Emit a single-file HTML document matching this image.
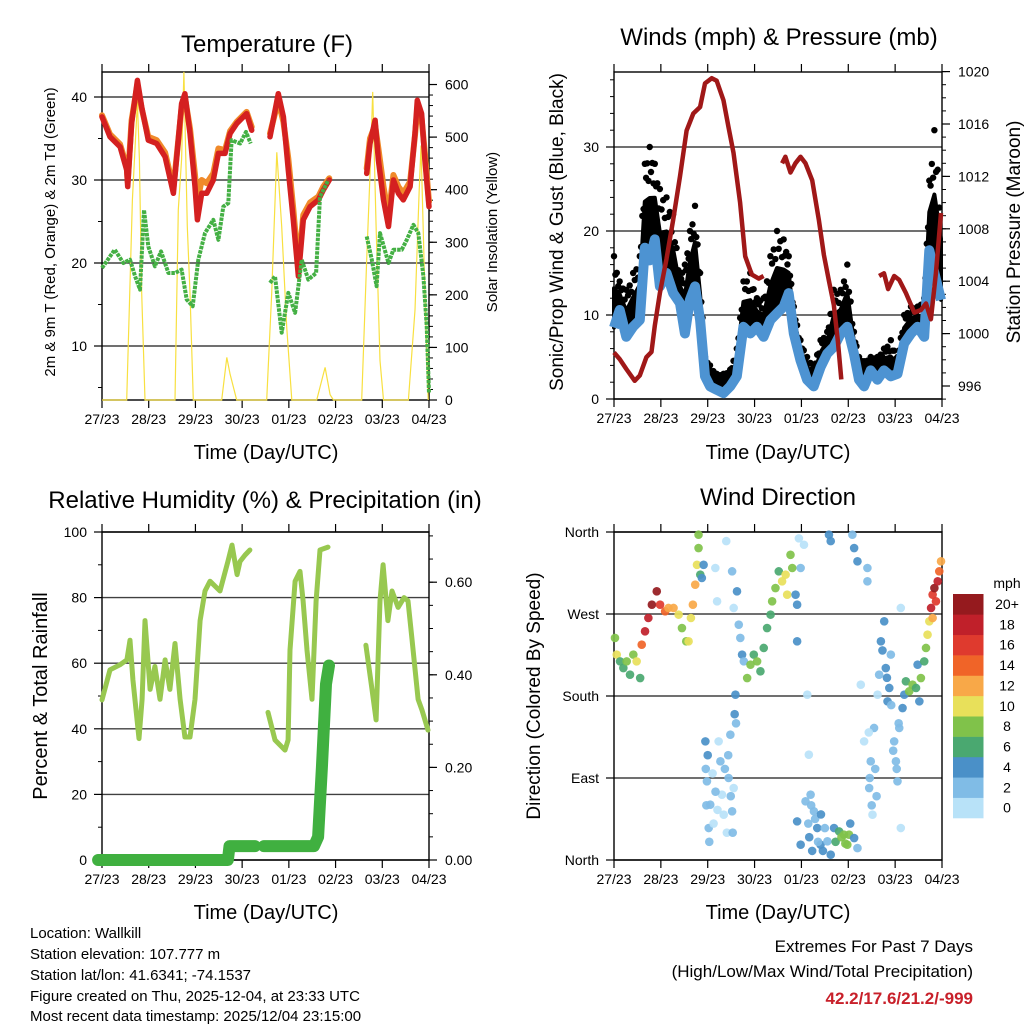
<!DOCTYPE html>
<html><head><meta charset="utf-8">
<style>
html,body{margin:0;padding:0;background:#fff;}
svg{display:block;font-family:"Liberation Sans",sans-serif;}
text{fill:#000;}
</style></head>
<body>
<svg id="chart" width="1024" height="1024" viewBox="0 0 1024 1024" xmlns="http://www.w3.org/2000/svg">
<rect x="0" y="0" width="1024" height="1024" fill="#fff"/>
<text x="267" y="52" font-size="24" text-anchor="middle">Temperature (F)</text>
<text x="779" y="45" font-size="24" text-anchor="middle">Winds (mph) &amp; Pressure (mb)</text>
<text x="265" y="508" font-size="24" text-anchor="middle">Relative Humidity (%) &amp; Precipitation (in)</text>
<text x="778" y="505" font-size="24" text-anchor="middle">Wind Direction</text>
<text x="266" y="459" font-size="20" text-anchor="middle">Time (Day/UTC)</text>
<text x="778" y="459" font-size="20" text-anchor="middle">Time (Day/UTC)</text>
<text x="266" y="919" font-size="20" text-anchor="middle">Time (Day/UTC)</text>
<text x="778" y="919" font-size="20" text-anchor="middle">Time (Day/UTC)</text>
<text transform="translate(55,232) rotate(-90)" font-size="15" text-anchor="middle">2m &amp; 9m T (Red, Orange) &amp; 2m Td (Green)</text>
<text transform="translate(497,232) rotate(-90)" font-size="15" text-anchor="middle">Solar Insolation (Yellow)</text>
<text transform="translate(563,232) rotate(-90)" font-size="19" text-anchor="middle">Sonic/Prop Wind &amp; Gust (Blue, Black)</text>
<text transform="translate(1020,232) rotate(-90)" font-size="19" text-anchor="middle">Station Pressure (Maroon)</text>
<text transform="translate(47,696) rotate(-90)" font-size="20" text-anchor="middle">Percent &amp; Total Rainfall</text>
<text transform="translate(540,696) rotate(-90)" font-size="19" text-anchor="middle">Direction (Colored By Speed)</text>
<g font-size="15">
<text x="30" y="938">Location: Wallkill</text>
<text x="30" y="959">Station elevation: 107.777 m</text>
<text x="30" y="980">Station lat/lon: 41.6341; -74.1537</text>
<text x="30" y="1001">Figure created on Thu, 2025-12-04, at 23:33 UTC</text>
<text x="30" y="1021">Most recent data timestamp: 2025/12/04 23:15:00</text>
</g>
<text x="973" y="952" font-size="17" text-anchor="end">Extremes For Past 7 Days</text>
<text x="973" y="977" font-size="17" text-anchor="end">(High/Low/Max Wind/Total Precipitation)</text>
<text x="973" y="1004" font-size="17" font-weight="bold" text-anchor="end" style="fill:#c8202a">42.2/17.6/21.2/-999</text>
</svg>
<script>
// ---------- data ----------
const xTickLabels = ['27/23','28/23','29/23','30/23','01/23','02/23','03/23','04/23'];
const redT = [0,4.1,9.3,12.7,13.2,15.2,18.2,20.4,23.8,28.1,32.4,36.7,40.9,42.6,45.2,47.8,49,51.2,53.8,57.2,59.8,63.2,65.8,69.2,74.3,76.9,null,86.3,90.6,93.2,95.7,98.3,100.9,103.4,106.9,111.2,113.7,116.8,null,136,137.7,140.3,142,144.6,147.2,149.7,152.3,154.8,158.3,160.8,162,164.2,165.9,168];
const redV = [37.6,35.2,34,31.2,29.2,36.8,42,38.8,34.8,34.4,32.8,28.4,39.2,40.4,35.6,29.2,25.2,28.4,28.4,30,33.2,33.2,35.6,36.8,38,36,null,35.2,40.4,37.6,31.2,25.2,18.4,25.2,26.8,27.6,28.8,30,null,30.8,34.4,37.2,32.4,27.6,24.4,30,28.4,27.6,29.2,35.6,39.6,38,32.4,26.8];
const orangeV = [37.8,35.5,34.3,31.6,29.8,37.2,41.5,38.6,35.2,34.8,33.3,29,38.7,40,36.2,30.6,27.5,30,29.6,30.8,33.8,33.6,35.9,37,38.2,36.4,null,35.6,39.6,37,32.6,26.5,19.5,25.8,27.3,28,29.2,30.2,null,31.4,35,36.6,33.8,29.2,25.6,30.6,29.2,28.4,29.8,35.4,38.5,37.4,33.2,27.4];
const dewT = [0,6.5,11,14.4,17,19.5,21.6,23.8,27.2,30.3,34.1,37.5,40.9,43.5,46.6,49.5,52.9,57.2,59.8,62.3,64.9,66.6,71,74,76.4,null,86.3,88.9,92.3,95.7,99.2,102.6,106,110,112,116.3,null,136,138.6,141.1,142.8,147.2,149.7,154,156.6,160,162.5,165.1,166.8,168];
const dewV = [19.4,21.6,20,20.4,18.4,16.8,26.4,22,19.6,21.4,18.8,18.8,19.2,15.6,14.8,20.4,23.6,25.2,22.8,26.8,27.2,34.8,34.4,35.8,34.4,null,17.6,18.4,11.6,16.4,14,20.4,18,18.8,28,30,null,23.2,20.4,17.2,23.6,20,21.6,21.6,22.8,24.6,23.6,18.4,12.4,4.3];
const solarT = [0,12.7,15.6,18.2,19.2,20.4,22.1,37.5,39.2,40.9,42.1,43.8,45.2,46.9,61.5,64.1,65.8,69.2,84.6,87.2,89.8,92.3,94.9,97.5,110.3,114.6,117.2,118.9,133.4,136,138,139.1,140.8,142.8,144.6,157.4,160.8,162.9,163.9,165.9,167.6];
const solarV = [0,0,381,567,458,203,0,0,362,458,624,330,203,0,0,81,49,0,0,203,471,330,139,0,0,62,10,0,0,267,458,586,330,75,0,0,171,394,484,203,0];
const windT = [0,2.9,6.3,9.8,13.2,15.8,18.3,20.9,23.5,26.9,30.3,33.8,36.3,38.9,41.5,44.1,46.6,49.2,52.6,56.1,59.5,62.9,66.3,69.8,73.2,76.6,80.1,83.5,86.9,89.5,92.1,95.5,98.9,102.3,105.8,109.2,112.6,116.1,119.5,122.9,125.5,128.1,131.5,134.9,138.3,141.8,145.2,148.6,152.1,155.5,158.9,161.5,164.1,167.5];
const windS = [8.5,10.6,7.4,8.6,9.4,18,16.5,19,13.4,15,12.6,11.4,7.8,11.8,13.4,9.4,2.7,1.5,1.1,0.7,1.5,2.7,8.6,7.8,8.6,7.4,9.4,10.2,11,12.6,7.8,4.6,2.3,1.5,3.8,5.4,6.2,7.8,8.6,5.4,2.3,1.5,3.4,2.3,3.4,2.7,3.0,6.6,7.8,8.6,7.4,17.7,15,11.8];
const windG = [17,14,13,15,17,28,30,28,25,24,22,15,16,20,23,15,5,4,3,3,3.5,6,14,15,12,12,17,20,19,17,11,7,5,4,7,8,13,13,16,8,5,4.5,5,5,6,7,5,10,11,11,12,26,32,25];
const presT = [0,2.9,6.3,10.6,13.2,16.6,19.2,20.9,23.5,26.9,30.3,33.8,37.2,40.6,44.1,46.6,50.1,52.6,56.1,58.6,61.2,64.6,67.2,70.6,74.1,76.6,null,86.1,87.8,90.4,92.9,95.5,98.1,101.5,104.9,107.5,110.1,112.6,114.7,116.4,null,135.8,138.3,140.4,143.5,146.1,149.5,153.8,157.2,159.8,162.3,164.9,167.5];
const presV = [998.56,998.05,997.3,996.4,996.8,998.2,998.6,1000.6,1003.1,1005.7,1008.7,1012,1015.5,1016.8,1017.3,1019.1,1019.5,1019.3,1017.8,1015.8,1013.8,1010,1005.9,1004.5,1004.2,1004.4,null,1013,1013.5,1012.3,1013,1013.5,1013,1011.7,1008.7,1006,1004,1002.2,999.4,996.5,null,1004.4,1004.6,1003.4,1004.4,1004.1,1003.1,1001.6,1001.8,1002.3,1001.1,1004.6,1009.2];
const rhT = [0,4.1,9.2,12.8,14.4,15.9,19,20.6,22.1,24.7,27.2,29.8,32.4,34.9,37.5,40.1,42.6,45.2,47.8,50.4,52.9,55.5,60.6,64.7,66.8,69.4,70.9,73.5,76,null,85.3,88.9,94,95.6,96.6,99.2,101.7,103.3,105.3,107.9,110,112,116.1,null,135.6,138.7,140.8,142.8,144.4,146.9,149,152.1,155.2,157.2,159.3,162.4,164.4,167.5];
const rhV = [48.8,58,59.5,61,67,55,37,49,73,52,59,49,61,52,66,49,37.5,37.5,49,73,82,85,82,91,96,87,91,93,94.5,null,45,36.6,33.5,36.6,64,85,88,79,64,49,79,94.5,95.4,null,65.5,52,42.7,79,90,73,82,77,80,79,67,49,45.7,39.6];
const precT = [-2,64.7,65.5,78.6,null,83.2,108.9,111,113,115.1,116.6];
const precV = [0,0,0.03,0.03,null,0.03,0.03,0.05,0.2,0.38,0.42];
const dirT = [0.5,1.4,3.1,4.8,6.5,8.2,9.9,11.6,13.4,14.2,15.9,17.6,19.4,21.9,23.6,26.2,27.9,30.5,33.1,34.8,37,38.2,39.4,40.4,41.6,42.5,43.3,44.2,45,45.9,43.3,
46.8,47.6,48.5,49.3,51.9,52.8,53.6,54.5,55.3,56.2,57.5,58.7,59.6,60.5,61.3,62.2,60.5,61.3,63,63.9,64.7,65.6,66.5,68.2,69.9,71.6,73.3,75,76.7,78.4,80.2,81,82.7,84.4,86.1,87.9,88.7,90.4,91.3,93,93.8,93.8,94.7,95.6,97.3,99,99.8,100.7,102.4,93.8,95.6,98.1,104.1,105.8,109.3,111,112.7,115.3,117.8,119.5,120.4,123,124.7,110.1,111,122.1,123,124.7,126.4,128.1,129.8,129.8,130.7,131.5,132.4,133.2,135,135.8,136.7,138.4,139.2,140.1,141,141.8,143.5,144.4,145.2,146.1,146.9,146.9,147.8,148.7,149.5,151.2,152.9,154.7,155.5,156.4,157.2,158.9,159.8,160.6,161.5,162.4,163.2,164.1,165.8,166.6,167.5,164.9,163.2,
47,47.3,48,48.8,50.5,51,52,53,56.8,57.8,58.5,59.8,60.8,61.8,62.5,99.5,100,101,101.5,103,104.5,106,107,108,113.5,116.5,118.5,121,130.5,131,132,133.8,134.5,137.5,139.8,142,143,144.8,145.8];
const dirDeg = [243.7,225.4,218,210.7,218,203.4,225.4,218,199.7,236.3,251,265.6,280.2,294.9,280.2,272.9,276.6,276.6,269.3,254.6,240,240,265.6,280.2,302.2,324,342.4,313.2,309.5,324,357,
130.2,86.3,35.1,60.7,320.5,283.9,130.2,108.3,71.7,49.7,350,90,137.5,53.4,79,181.4,316.8,276.6,294.9,258.3,243.7,225.4,218,199.7,214.4,225.4,218,207.1,232.7,254.6,269.3,283.9,298.5,316.8,305.9,313.2,291.2,335,320.5,291.2,280.2,240,353,320.5,346,181.4,115.6,71.7,53.4,42.4,16.8,64.4,35.1,16.8,20.5,5.8,35.1,31.4,27.8,16.8,27.8,24.1,13.1,357,350,357,342.4,327.8,192.4,130.2,320.5,305.9,79,108.3,49.7,144.9,181.4,203.4,240,262,210.7,174.1,188.8,225.4,130.2,108.3,86.3,144.9,35.1,276.6,166.8,181.4,196.1,185.1,192.4,188.8,214.4,174.1,199.7,218,232.7,247.3,262,276.6,291.2,298.5,305.9,316.8,327.8,283.9,265.6,
100,60,115,20,95,40,75,55,100,30,115,70,30,160,150,40,25,60,10,45,20,50,10,35,20,25,18,40,140,90,60,100,70,230,200,170,120,100,150];
const dirSpd = [8,10,6,6,8,6,8,10,6,14,18,18,20,20,16,14,12,12,10,8,8,10,10,12,12,10,8,6,4,4,8,
4,2,2,2,0,0,0,2,0,0,0,2,2,2,0,4,2,0,4,2,2,4,2,8,8,6,8,6,6,6,6,8,8,6,10,10,10,8,8,4,4,4,0,2,0,0,0,2,2,4,4,2,4,4,2,4,4,6,8,8,8,4,2,4,4,2,4,4,0,0,2,2,2,2,0,2,0,2,4,4,4,4,4,2,2,2,2,2,0,0,4,4,6,8,8,6,4,4,8,6,8,10,10,18,16,20,18,14,12,16,12,
2,2,4,2,0,0,2,0,2,0,2,2,2,4,2,2,4,2,4,2,2,4,4,2,6,8,8,4,0,2,2,2,2,4,4,2,2,2,2];
const speedColors = ['#b8e2f8','#80bce6','#4a90c8','#4aa870','#80c24a','#e8e05a','#f8a848','#f06428','#df3a2e','#c0202a','#951a1e'];
const speedLabels = ['0','2','4','6','8','10','12','14','16','18','20+'];

// ---------- helpers ----------
const NS = 'http://www.w3.org/2000/svg';
const svg = document.getElementById('chart');
function mk(tag, attrs, parent) {
  const e = document.createElementNS(NS, tag);
  for (const k in attrs) e.setAttribute(k, attrs[k]);
  (parent || svg).appendChild(e);
  return e;
}
function pathFrom(T, V, xf, yf) {
  let d = '', pen = false;
  for (let i = 0; i < T.length; i++) {
    if (T[i] === null || V[i] === null) { pen = false; continue; }
    d += (pen ? 'L' : 'M') + xf(T[i]).toFixed(1) + ' ' + yf(V[i]).toFixed(1);
    pen = true;
  }
  return d;
}
const P1 = {L:102, R:429, T:72, B:400};
const P2 = {L:614, R:942, T:72, B:399};
const P3 = {L:102, R:429, T:532, B:860};
const P4 = {L:614, R:942, T:532, B:860};
function xs(P) { return t => P.L + t * (P.R - P.L) / 168; }
const x1 = xs(P1), x2 = xs(P2), x3 = xs(P3), x4 = xs(P4);
const tY = v => 429 - 8.3 * v;
const sY = v => 400 - 0.5258 * v;
const wY = v => 399 - 8.4 * v;
const pY = p => 386 - (p - 996) * 13.1;
const rhY = v => 860 - 3.28 * v;
const prY = p => 860 - 463 * p;
const dY = d => 860 - d * 328 / 360;

function drawFrame(P, prefix) {
  const g = mk('g', {});
  
  
  for (let i = 0; i < xTickLabels.length; i++) {
    const x = P.L + i * (P.R - P.L) / 7;
    const tk = mk('path', {d:`M${x} ${P.B}V${P.B+8}M${x} ${P.T}V${P.T-8}`, stroke:'#000', 'stroke-width':1.2}, g);
    
    
    const lb = mk('text', {x:x, y:P.B+24, 'font-size':14, 'text-anchor':'middle'}, g);
    lb.textContent = xTickLabels[i];
    
    
  }
  return g;
}
function drawYAxis(g, P, side, majors, labels, minors, yf, prefix, grid) {
  const x = side === 'L' ? P.L : P.R, dir = side === 'L' ? -1 : 1;
  for (let i = 0; i < majors.length; i++) {
    const y = yf(majors[i]);
    if (grid) {
      const gl = mk('line', {x1:P.L, x2:P.R, y1:y, y2:y, stroke:'#000', 'stroke-opacity':0.75, 'stroke-width':1.4}, g);
      
      
    }
    const tk = mk('line', {x1:x, x2:x + dir*8, y1:y, y2:y, stroke:'#000', 'stroke-width':1.2}, g);
    
    
    const lb = mk('text', {x:x + dir*(side === 'L' ? 15 : 16), y:y+5, 'font-size':14, 'text-anchor': side === 'L' ? 'end' : 'start'}, g);
    lb.textContent = labels[i];
    
    
  }
  for (let i = 0; i < minors.length; i++) {
    const y = yf(minors[i]);
    const tk = mk('line', {x1:x, x2:x + dir*4, y1:y, y2:y, stroke:'#000', 'stroke-width':1}, g);
    
    
  }
}
function border(g, P, prefix) {
  const b = mk('rect', {x:P.L, y:P.T, width:P.R-P.L, height:P.B-P.T, fill:'none', stroke:'#000', 'stroke-width':1.4}, g);
  
  
}
function range(a, b, s) { const r = []; for (let v = a; v <= b + 1e-9; v += s) r.push(+v.toFixed(3)); return r; }

// ---------- Panel 1: temperature ----------
const g1 = drawFrame(P1, 'temp');
drawYAxis(g1, P1, 'L', [10,20,30,40], ['10','20','30','40'], [5,15,25,35], tY, 'temp', true);
drawYAxis(g1, P1, 'R', [0,100,200,300,400,500,600], ['0','100','200','300','400','500','600'], range(20,600,20), sY, 'solar', false);
const solar = mk('path', {d:pathFrom(solarT, solarV, x1, sY), fill:'none', stroke:'#f8e040', 'stroke-width':1.2});


const orange = mk('path', {d:pathFrom(redT, orangeV, x1, tY), fill:'none', stroke:'#f08a2a', 'stroke-width':6, 'stroke-linejoin':'round', 'stroke-linecap':'round'});


const red = mk('path', {d:pathFrom(redT, redV, x1, tY), fill:'none', stroke:'#d42020', 'stroke-width':5.5, 'stroke-linejoin':'round', 'stroke-linecap':'round'});


const dew = mk('path', {d:pathFrom(dewT, dewV, x1, tY), fill:'none', stroke:'#44b044', 'stroke-width':4, 'stroke-dasharray':'3.5 1', 'stroke-linejoin':'round'});


border(g1, P1, 'temp');

// ---------- Panel 2: winds ----------
const g2 = drawFrame(P2, 'winds');
drawYAxis(g2, P2, 'L', [0,10,20,30], ['0','10','20','30'], range(0,38,2), wY, 'wind', true);
drawYAxis(g2, P2, 'R', [996,1000,1004,1008,1012,1016,1020], ['996','1000','1004','1008','1012','1016','1020'], range(995,1020,1), pY, 'pressure', false);
let dA = '', dB = '';
for (let i = 0; i < windT.length; i++) {
  const mid = windS[i] + 0.55 * (windG[i] - windS[i]);
  dA += (i ? 'L' : 'M') + x2(windT[i]).toFixed(1) + ' ' + wY(mid).toFixed(1);
}
for (let i = windT.length - 1; i >= 0; i--) dB += 'L' + x2(windT[i]).toFixed(1) + ' ' + wY(windS[i]).toFixed(1);
const gustArea = mk('path', {d:dA + dB + 'Z', fill:'#000', stroke:'#000', 'stroke-width':4, 'stroke-linejoin':'round'});


const fracs = [0, 0.25, 0.5, 0.75];
const lifts = [1.0, 0.8, 0.92, 0.72];
for (let i = 0; i < windT.length - 1; i++) {
  for (let k = 0; k < fracs.length; k++) {
    const f = fracs[k];
    const tm = windT[i] + f * (windT[i+1] - windT[i]);
    const sm = windS[i] + f * (windS[i+1] - windS[i]);
    const gm = windG[i] + f * (windG[i+1] - windG[i]);
    const c = mk('circle', {cx:x2(tm), cy:wY(sm + lifts[k] * (gm - sm)), r:3.2, fill:'#000'});
    
    
  }
}
const blue = mk('path', {d:pathFrom(windT, windS, x2, wY), fill:'none', stroke:'#4d93d2', 'stroke-width':10, 'stroke-linejoin':'round'});


const pres = mk('path', {d:pathFrom(presT, presV, x2, pY), fill:'none', stroke:'#a01818', 'stroke-width':4.5, 'stroke-linejoin':'round'});


border(g2, P2, 'winds');

// ---------- Panel 3: humidity ----------
const g3 = drawFrame(P3, 'humidity');
drawYAxis(g3, P3, 'L', [0,20,40,60,80,100], ['0','20','40','60','80','100'], range(10,90,20), rhY, 'humidity', true);
drawYAxis(g3, P3, 'R', [0,0.2,0.4,0.6], ['0.00','0.20','0.40','0.60'], range(0.05,0.7,0.05), prY, 'precip', false);
const rh = mk('path', {d:pathFrom(rhT, rhV, x3, rhY), fill:'none', stroke:'#98c850', 'stroke-width':5, 'stroke-linejoin':'round', 'stroke-linecap':'round'});


const pr = mk('path', {d:pathFrom(precT, precV, x3, prY), fill:'none', stroke:'#40b040', 'stroke-width':12, 'stroke-linejoin':'round', 'stroke-linecap':'round'});


border(g3, P3, 'humidity');

// ---------- Panel 4: wind direction ----------
const g4 = drawFrame(P4, 'direction');
drawYAxis(g4, P4, 'L', [0,90,180,270,360], ['North','East','South','West','North'], [], dY, 'direction', true);
const dots = mk('g', {});


for (let i = 0; i < dirT.length; i++) {
  const idx = Math.min(10, Math.floor(dirSpd[i] / 2));
  const c = mk('circle', {cx:x4(dirT[i]), cy:dY(dirDeg[i]), r:4.3, fill:speedColors[idx], 'fill-opacity':0.92}, dots);
  
  
}
border(g4, P4, 'direction');

// ---------- colorbar ----------
const cb = mk('g', {});


const unit = mk('text', {x:1007, y:588, 'font-size':14, 'text-anchor':'middle'}, cb);
unit.textContent = 'mph';


for (let i = 0; i < speedColors.length; i++) {
  const y = 818 - (i + 1) * (224 / 11);
  const r = mk('rect', {x:953, y:y, width:30.5, height:224/11 + 0.3, fill:speedColors[i]}, cb);
  
  
  const t = mk('text', {x:1007, y:y + 15, 'font-size':14, 'text-anchor':'middle'}, cb);
  t.textContent = speedLabels[i];
  
  
}
</script>
</body></html>
